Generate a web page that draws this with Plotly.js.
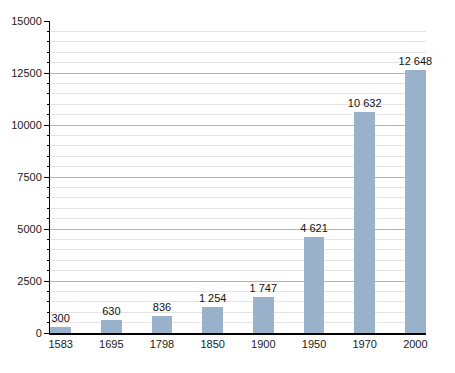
<!DOCTYPE html>
<html><head><meta charset="utf-8">
<script src="https://cdn.plot.ly/plotly-3.0.1.min.js"></script>
<style>html,body{margin:0;padding:0;background:#fff}</style>
</head><body>
<div id="chart" style="width:455px;height:373px"></div>
<script>
const years = ['1583','1695','1798','1850','1900','1950','1970','2000'];
const population = [300, 630, 836, 1254, 1747, 4621, 10632, 12648];
const yTicks = [0, 2500, 5000, 7500, 10000, 12500, 15000];

function fmt(v){ return String(v).replace(/\B(?=(\d{3})+(?!\d))/g, ' '); }

Plotly.newPlot('chart', [{
  type: 'bar',
  x: years,
  y: population,
  width: 0.41,
  marker: {color: '#9ab1cb', line: {width: 0}},
  text: population.map(fmt),
  textposition: 'outside',
  constraintext: 'none',
  cliponaxis: false,
  textfont: {family: 'Liberation Sans, Arial, sans-serif', size: 11, color: '#111'},
  hoverinfo: 'none'
}], {
  width: 455, height: 373,
  margin: {l: 50, r: 29, t: 21, b: 40},
  paper_bgcolor: '#fff', plot_bgcolor: '#fff',
  showlegend: false,
  bargap: 0,
  font: {family: 'Liberation Sans, Arial, sans-serif', size: 11, color: '#222'},
  xaxis: {
    type: 'category', range: [-0.21, 7.21],
    showline: true, linecolor: '#000', linewidth: 1.5,
    ticks: '', showgrid: false, zeroline: false,
    tickfont: {size: 11, color: '#222'}
  },
  yaxis: {
    range: [0, 15000], tickvals: yTicks, tickformat: 'd',
    showline: true, linecolor: '#000', linewidth: 1,
    ticks: 'outside', ticklen: 5, tickcolor: '#000', tickwidth: 1,
    gridcolor: '#b4b4b4', gridwidth: 1, zeroline: false,
    minor: {dtick: 500, ticks: 'outside', ticklen: 2, tickcolor: '#000', showgrid: true, gridcolor: '#e4e4e4', gridwidth: 1},
    tickfont: {size: 11, color: '#222'}
  }
}, {staticPlot: true, displayModeBar: false});
</script>
</body></html>
